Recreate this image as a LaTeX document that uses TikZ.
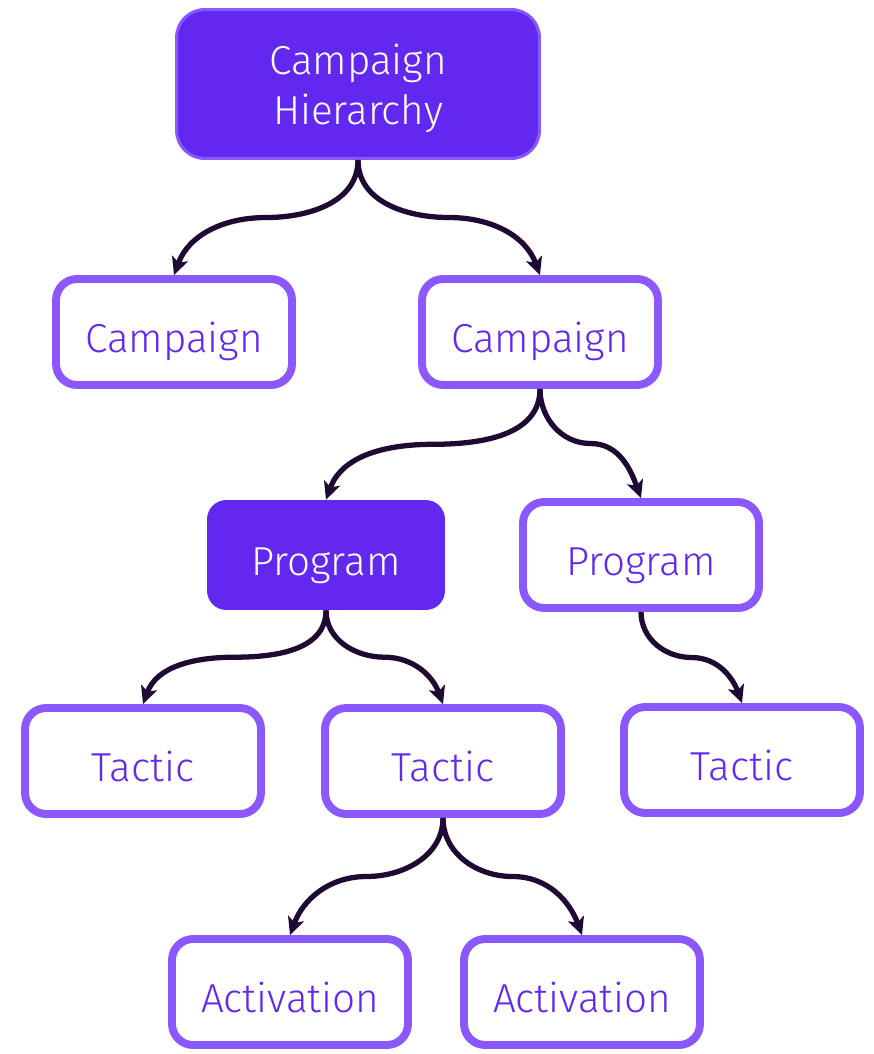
\documentclass[tikz,border=0pt]{standalone}
\usepackage{fontspec}
\setmainfont{Fira Sans Light}
\usetikzlibrary{arrows.meta,calc}
\definecolor{deep}{HTML}{6228F0}
\definecolor{edge}{HTML}{8B57FF}
\definecolor{ink}{HTML}{1F0A33}

\begin{document}
\begin{tikzpicture}[x=0.02cm, y=0.02cm, >={Stealth[length=10pt,width=9.5pt,inset=2.5pt]},
  font=\fontsize{23}{28.5}\selectfont,
  box/.style={draw=edge, line width=4.5pt, rounded corners=12pt, fill=white, text=deep,
    minimum width=4.72cm, minimum height=2.12cm, text height=24pt, text depth=1.2pt},
  solid/.style={fill=deep, text=white, rounded corners=11pt, minimum width=4.76cm,
    minimum height=2.2cm, text height=24pt, text depth=1.2pt},
  link/.style={->, draw=ink, line width=3pt}]
  \useasboundingbox (0,0) rectangle (874,-1054);
  % top
  \node[fill=deep, text=white, draw=edge, line width=1.7pt, rounded corners=16pt,
    minimum width=7.26cm, minimum height=2.98cm, align=center, text depth=0pt] (top) at (358,-84) {Campaign\\Hierarchy};
  \node[box] (c1) at (174,-332) {Campaign};
  \node[box] (c2) at (540,-332) {Campaign};
  \node[solid] (p1) at (326,-555) {Program};
  \node[box] (p2) at (641,-555) {Program};
  \node[box] (t1) at (143,-761) {Tactic};
  \node[box] (t2) at (443,-761) {Tactic};
  \node[box] (t3) at (742,-760) {Tactic};
  \node[box] (a1) at (290,-992) {Activation};
  \node[box] (a2) at (582,-992) {Activation};
  % links
  \foreach \p/\c in {top/c1,c2/p1,p1/t1,t2/a1}
    \draw[link] (\p.south) to[out=-90,in=0] ($(\p.south)!.5!(\c.north)$) to[out=180,in=70] (\c.north);
  \foreach \p/\c in {top/c2,c2/p2,p1/t2,p2/t3,t2/a2}
    \draw[link] (\p.south) to[out=-90,in=180] ($(\p.south)!.5!(\c.north)$) to[out=0,in=110] (\c.north);
\end{tikzpicture}
\end{document}
